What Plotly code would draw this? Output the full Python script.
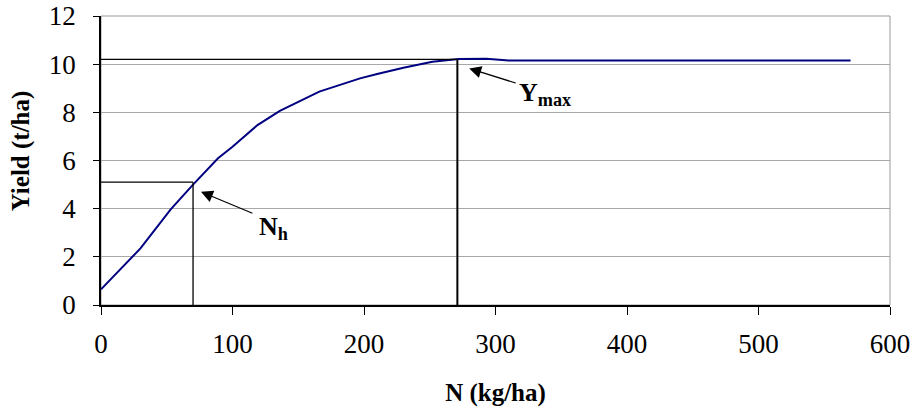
import plotly.graph_objects as go

# 氮肥用量 (kg/ha) 與產量 (t/ha)
n_rate = [0, 30, 53, 70, 89, 100, 119, 136, 166, 197, 210, 230, 252, 272, 293, 310, 330, 450, 570]
yield_t = [0.65, 2.35, 3.97, 5.0, 6.09, 6.57, 7.47, 8.06, 8.86, 9.41, 9.59, 9.85, 10.1, 10.21, 10.22, 10.15, 10.15, 10.15, 10.15]

# 參考點
n_h, y_h = 70, 5.1
n_max, y_max = 271, 10.2

x_ticks = [0, 100, 200, 300, 400, 500, 600]
y_ticks = [0, 2, 4, 6, 8, 10, 12]

FONT = "Liberation Serif"

fig = go.Figure()

fig.add_trace(go.Scatter(
    x=n_rate, y=yield_t,
    mode='lines',
    line=dict(color='#000080', width=2),
    showlegend=False
))

# 輔助線
line_thin = dict(color='black', width=1.3)
fig.add_shape(type='line', x0=0, x1=n_h, y0=y_h, y1=y_h, line=line_thin)
fig.add_shape(type='line', x0=n_h, x1=n_h, y0=0, y1=y_h, line=line_thin)
fig.add_shape(type='line', x0=0, x1=n_max, y0=y_max, y1=y_max, line=line_thin)
fig.add_shape(type='line', x0=n_max, x1=n_max, y0=0, y1=y_max, line=dict(color='black', width=2))

# 外框
fig.add_shape(type='rect', xref='paper', yref='paper', x0=0, x1=1, y0=0, y1=1,
              line=dict(color='#999999', width=1), layer='below')

# 箭頭與標註
fig.add_annotation(x=76, y=4.7, ax=53, ay=22, text="", showarrow=True,
                   arrowhead=2, arrowsize=2, arrowwidth=1.2, arrowcolor='black')
fig.add_annotation(x=131, y=3.2, text="<b>N<sub>h</sub></b>", showarrow=False,
                   font=dict(family=FONT, size=26, color='black'))
fig.add_annotation(x=280, y=9.82, ax=48, ay=15, text="", showarrow=True,
                   arrowhead=2, arrowsize=2, arrowwidth=1.2, arrowcolor='black')
fig.add_annotation(x=338, y=8.75, text="<b>Y<sub>max</sub></b>", showarrow=False,
                   font=dict(family=FONT, size=26, color='black'))

# y 軸標題
fig.add_annotation(xref='paper', yref='paper', x=-0.101, y=0.533, xanchor='center', yanchor='middle',
                   text="<b>Yield (t/ha)</b>", textangle=-90, showarrow=False,
                   font=dict(family=FONT, size=25, color='black'))

fig.update_layout(
    width=911, height=407,
    margin=dict(l=101, r=21, t=16, b=102),
    paper_bgcolor='white', plot_bgcolor='white',
    font=dict(family=FONT, size=27, color='black'),
    xaxis=dict(
        range=[0, 600], tickvals=x_ticks,
        showgrid=False, zeroline=False,
        showline=True, linecolor='black', linewidth=1.5,
        ticks='outside', ticklen=8, tickcolor='black',
        ticklabelstandoff=6, automargin=False, ticklabeloverflow='allow',
        title=dict(text="<b>N (kg/ha)</b>", font=dict(size=25), standoff=38),
    ),
    yaxis=dict(
        range=[0, 12], tickvals=y_ticks,
        showgrid=True, gridcolor='#a8a8a8', gridwidth=1,
        zeroline=False,
        showline=True, linecolor='black', linewidth=1.5,
        ticks='outside', ticklen=6, tickcolor='black',
        ticklabelstandoff=12, automargin=False, ticklabeloverflow='allow',
    ),
)

# 去掉 body 預設的 8px 邊距，讓圖貼齊視窗左上角；不顯示工具列
fig.write_html("out.html", config={'displayModeBar': False},
               post_script="document.body.style.margin='0';")
